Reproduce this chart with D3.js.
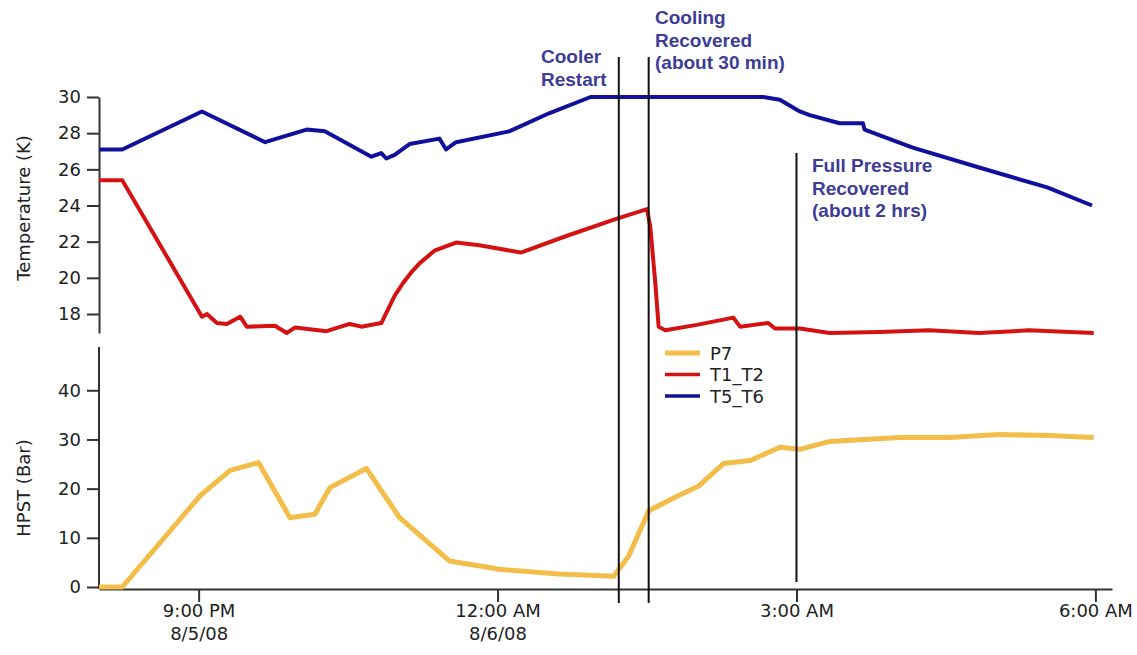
<!DOCTYPE html>
<html>
<head>
<meta charset="utf-8">
<script src="https://cdn.jsdelivr.net/npm/d3@7"></script>
<style>
  body { margin: 0; background: #fff; }
  svg text { font-family: "DejaVu Sans", Verdana, sans-serif; fill: #222; }
  .note { font-family: "Liberation Sans", Arial, sans-serif; font-weight: bold; fill: #3d3d96; font-size: 19px; }
</style>
</head>
<body>
<svg id="chart" width="1137" height="655"></svg>
<script>
// T5_T6 temperature (K)
const t56Times = ["20:00","20:14","21:02","21:40","22:05","22:16","22:44","22:50","22:53","22:58","23:07","23:25","23:29","23:35","00:07","00:31","00:56","02:40","02:50","03:02","03:08","03:26","03:40","03:41","04:10","04:50","05:31","05:58"];
const t56Vals  = [27.1, 27.1, 29.2, 27.5, 28.2, 28.1, 26.7, 26.9, 26.6, 26.8, 27.4, 27.7, 27.1, 27.5, 28.1, 29.1, 30.0, 30.0, 29.85, 29.2, 29.0, 28.55, 28.55, 28.2, 27.2, 26.1, 25.0, 24.0];

// T1_T2 temperature (K)
const t12Times = ["20:00","20:14","21:02","21:05","21:11","21:17","21:25","21:29","21:46","21:53","21:58","22:17","22:31","22:38","22:50","22:58","23:03","23:08","23:13","23:22","23:35","23:49","00:14","00:41","01:11","01:30","01:32","01:35","01:37","01:41","02:00","02:22","02:26","02:43","02:47","03:02","03:20","03:50","04:20","04:50","05:20","05:59"];
const t12Vals  = [25.4, 25.4, 17.85, 18.0, 17.5, 17.45, 17.85, 17.3, 17.35, 16.95, 17.25, 17.05, 17.45, 17.3, 17.5, 19.0, 19.7, 20.3, 20.8, 21.5, 21.95, 21.8, 21.4, 22.3, 23.25, 23.8, 22.8, 19.7, 17.3, 17.1, 17.4, 17.8, 17.3, 17.5, 17.2, 17.2, 16.95, 17.0, 17.1, 16.95, 17.1, 16.95];

// P7 pressure (Bar)
const p7Times = ["20:00","20:14","21:01","21:19","21:36","21:55","22:10","22:19","22:41","23:01","23:31","00:01","00:37","01:10","01:19","01:31","01:49","02:01","02:16","02:32","02:50","03:02","03:20","04:02","04:32","05:02","05:32","05:59"];
const p7Vals  = [0, 0, 18.6, 23.7, 25.3, 14.1, 14.8, 20.2, 24.1, 14.1, 5.3, 3.6, 2.65, 2.2, 6.3, 15.5, 18.6, 20.5, 25.1, 25.7, 28.4, 28.0, 29.6, 30.4, 30.4, 31.0, 30.8, 30.4];

const tempTicks = [18, 20, 22, 24, 26, 28, 30];
const presTicks = [0, 10, 20, 30, 40];
const timeTicks = ["21:00", "00:00", "03:00", "06:00"];
const timeTickLabels = [["9:00 PM", "8/5/08"], ["12:00 AM", "8/6/08"], ["3:00 AM"], ["6:00 AM"]];

const eventTimes = ["01:13", "01:31", "03:00"];
const eventNotes = [["Cooler", "Restart"], ["Cooling", "Recovered", "(about 30 min)"], ["Full Pressure", "Recovered", "(about 2 hrs)"]];

const seriesNames = ["P7", "T1_T2", "T5_T6"];
const seriesColors = ["#f2bd48", "#d41212", "#10109c"];

// clock string -> date; morning hours belong to 8/6/08
function parseClock(s) {
  const [h, m] = s.split(":").map(Number);
  return new Date(2008, 7, h < 12 ? 6 : 5, h, m);
}
const zip = (ts, vs) => ts.map((t, i) => ({ t: parseClock(t), v: vs[i] }));

const svg = d3.select("#chart");

const x = d3.scaleTime()
  .domain([parseClock("20:00"), parseClock("06:10")])
  .range([99, 1112]);
const yT = d3.scaleLinear().domain([16.95, 30]).range([333, 97]);
const yP = d3.scaleLinear().domain([0, 48.8]).range([587, 347]);

// axes
function styleAxis(g) {
  g.select(".domain").attr("stroke", "#333").attr("stroke-width", 2);
  g.selectAll(".tick line").attr("stroke", "#333").attr("stroke-width", 2);
  g.selectAll(".tick text").style("font-size", "18px").attr("fill", "#222");
}

svg.append("g")
  .attr("transform", "translate(99,0)")
  .call(d3.axisLeft(yT).tickValues(tempTicks).tickSize(12).tickSizeOuter(0).tickPadding(6))
  .call(styleAxis);

svg.append("g")
  .attr("transform", "translate(99,0)")
  .call(d3.axisLeft(yP).tickValues(presTicks).tickSize(12).tickSizeOuter(0).tickPadding(6))
  .call(styleAxis)
  .select(".domain").attr("d", "M0," + yP.range()[1] + "V589");

const xAxis = svg.append("g")
  .attr("transform", "translate(0,589)")
  .call(d3.axisBottom(x).tickValues(timeTicks.map(parseClock)).tickSize(13).tickSizeOuter(0).tickFormat(""))
  .call(styleAxis);
xAxis.selectAll(".tick").each(function(d, i) {
  const t = d3.select(this).append("text")
    .attr("text-anchor", "middle")
    .attr("fill", "#222")
    .style("font-size", "18px");
  timeTickLabels[i].forEach((s, k) => {
    t.append("tspan").attr("x", 0).attr("y", 28 + k * 23).text(s);
  });
});

svg.append("text")
  .attr("transform", "translate(30,208) rotate(-90)")
  .attr("text-anchor", "middle")
  .style("font-size", "18px")
  .text("Temperature (K)");

svg.append("text")
  .attr("transform", "translate(30,488) rotate(-90)")
  .attr("text-anchor", "middle")
  .style("font-size", "18px")
  .text("HPST (Bar)");

// series
const lineT = d3.line().x(d => x(d.t)).y(d => yT(d.v));
const lineP = d3.line().x(d => x(d.t)).y(d => yP(d.v));

svg.append("path").datum(zip(p7Times, p7Vals))
  .attr("d", lineP).attr("fill", "none")
  .attr("stroke", seriesColors[0]).attr("stroke-width", 5).attr("stroke-linejoin", "round");

svg.append("path").datum(zip(t12Times, t12Vals))
  .attr("d", lineT).attr("fill", "none")
  .attr("stroke", seriesColors[1]).attr("stroke-width", 4).attr("stroke-linejoin", "round");

svg.append("path").datum(zip(t56Times, t56Vals))
  .attr("d", lineT).attr("fill", "none")
  .attr("stroke", seriesColors[2]).attr("stroke-width", 4).attr("stroke-linejoin", "round");

// event markers and notes
const lineTop = [57, 57, 153];
const lineBottom = [603, 603, 582];
eventTimes.forEach((s, i) => {
  const ex = x(parseClock(s));
  svg.append("line")
    .attr("x1", ex).attr("x2", ex)
    .attr("y1", lineTop[i]).attr("y2", lineBottom[i])
    .attr("stroke", "#111").attr("stroke-width", 2);
});

const noteX = [541, 655, 812];
const noteY = [63, 24, 172];
eventNotes.forEach((lines, i) => {
  const t = svg.append("text").attr("class", "note");
  lines.forEach((s, k) => {
    t.append("tspan").attr("x", noteX[i]).attr("y", noteY[i] + k * 22.5).text(s);
  });
});

// legend
const legend = svg.append("g").attr("transform", "translate(665,353)");
seriesNames.forEach((n, i) => {
  legend.append("line")
    .attr("x1", 0).attr("x2", 35)
    .attr("y1", i * 21.5).attr("y2", i * 21.5)
    .attr("stroke", seriesColors[i]).attr("stroke-width", i === 0 ? 5 : 3.5);
  legend.append("text")
    .attr("x", 45).attr("y", i * 21.5 + 6.5)
    .style("font-size", "18px")
    .text(n);
});
</script>
</body>
</html>
